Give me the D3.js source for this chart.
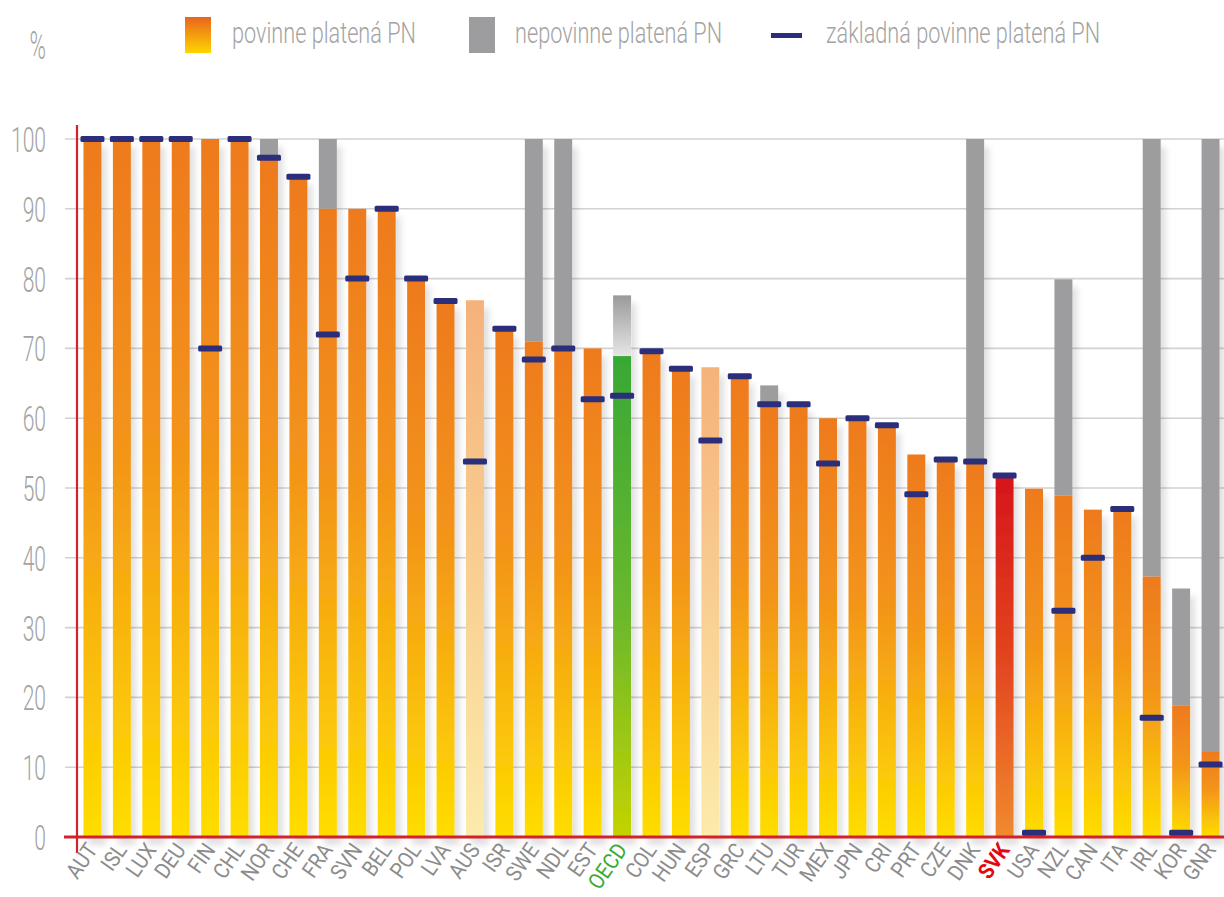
<!DOCTYPE html>
<html>
<head>
<meta charset="utf-8">
<script src="https://cdn.jsdelivr.net/npm/d3@7"></script>
<style>
  html, body { margin: 0; padding: 0; background: #ffffff; }
  svg { display: block; }
</style>
</head>
<body>
<svg id="chart" width="1224" height="897"></svg>
<script>
// Countries, ordered as drawn
const countries = ["AUT","ISL","LUX","DEU","FIN","CHL","NOR","CHE","FRA","SVN","BEL","POL","LVA","AUS","ISR","SWE","NDL","EST","OECD","COL","HUN","ESP","GRC","LTU","TUR","MEX","JPN","CRI","PRT","CZE","DNK","SVK","USA","NZL","CAN","ITA","IRL","KOR","GNR"];
// Mandatory paid leave (%)
const mandatoryPaid = [100,100,100,100,100,100,97.3,94.6,90,90,90,80,76.8,76.9,72.8,71,70,70,68.9,69.6,67.1,67.3,66,62,62,60,60,59,54.8,54,53.8,51.8,49.9,48.9,46.9,47,37.3,18.8,12.3];
// Optional paid leave stacked above the mandatory part (%)
const optionalPaid = [0,0,0,0,0,0,2.7,0,10,0,0,0,0,0,0,29,30,0,8.7,0,0,0,0,2.7,0,0,0,0,0,0,46.2,0,0,31,0,0,62.7,16.8,87.7];
// Basic mandatory paid leave (%)
const basicPaid = [100,100,100,100,70,100,97.3,94.6,72,80,90,80,76.8,53.8,72.8,68.4,70,62.7,63.2,69.6,67.1,56.8,66,62,62,53.5,60,59,49.1,54.1,53.8,51.8,0.6,32.4,40,47,17.1,0.6,10.4];
// Countries drawn in a lighter tone
const paleCountries = ["AUS","ESP"];
const yTicks = [0,10,20,30,40,50,60,70,80,90,100];
const legendLabels = ["povinne platená PN","nepovinne platená PN","základná povinne platená PN"];

const FONT = "Roboto,'Liberation Sans','DejaVu Sans',sans-serif";
const TEXT_GREY = "#a3a3a3";
const AXIS_RED = "#d3222a";
const NAVY = "#2b2e7a";
const OPT_GREY = "#9d9c9e";

const svg = d3.select("#chart");
const defs = svg.append("defs");

function vGrad(id, stops) {
  const g = defs.append("linearGradient").attr("id", id)
    .attr("x1", 0).attr("y1", 0).attr("x2", 0).attr("y2", 1);
  stops.forEach(([o, c]) => g.append("stop").attr("offset", o).attr("stop-color", c));
}
vGrad("gOrange", [[0, "#ee7a1f"], [0.45, "#f39519"], [1, "#ffdd00"]]);
vGrad("gPale", [[0, "#f5b27a"], [1, "#fcebab"]]);
vGrad("gGreen", [[0, "#38a836"], [0.55, "#6cb92c"], [1, "#c4d300"]]);
vGrad("gRed", [[0, "#d6151c"], [0.5, "#e2441f"], [1, "#f08a2e"]]);
vGrad("gOecdGrey", [[0, "#9a9a9a"], [1, "#e6e6e6"]]);
vGrad("gLegend", [[0, "#e9641c"], [1, "#ffd500"]]);

const shadow = defs.append("filter").attr("id", "soft")
  .attr("x", "-30%").attr("y", "-10%").attr("width", "180%").attr("height", "130%");
shadow.append("feDropShadow").attr("dx", 5).attr("dy", 8)
  .attr("stdDeviation", 3).attr("flood-color", "#000").attr("flood-opacity", 0.12);

const x = d3.scaleBand().domain(countries).range([72, 1231]).padding(0.39);
const y = d3.scaleLinear().domain([0, 100]).range([837, 139]);

// horizontal squeeze that makes `sample` (at `size`) span `width` px
function squeeze(sample, size, width, weight) {
  const t = svg.append("text").attr("font-family", FONT).attr("font-size", size)
    .attr("font-weight", weight || 300).text(sample);
  const w = t.node().getComputedTextLength();
  t.remove();
  return width / w;
}
const kTick = squeeze("100", 36, 35);
const kLegend = squeeze(legendLabels[0], 29, 184);
const kCat = squeeze("AUT", 22, 37, 400);

// condensed text helper
function ctext(sel, txt, px, py, size, sx, anchor, fill, weight) {
  return sel.append("text")
    .attr("transform", `translate(${px},${py}) scale(${sx},1)`)
    .attr("text-anchor", anchor || "start")
    .attr("font-family", FONT)
    .attr("font-size", size)
    .attr("font-weight", weight || 300)
    .attr("fill", fill || TEXT_GREY)
    .text(txt);
}

// horizontal grid
svg.append("g").selectAll("line").data(yTicks.filter(t => t > 0)).join("line")
  .attr("x1", 65).attr("x2", 1224)
  .attr("y1", d => y(d)).attr("y2", d => y(d))
  .attr("stroke", "#d2d2d2").attr("stroke-width", 1.6);

// y tick labels
const yLab = svg.append("g");
yTicks.forEach(t => ctext(yLab, String(t), 46, y(t) + 13, 36, kTick, "end"));
ctext(svg, "%", 46, 59, 38, kTick, "end");

const rows = countries.map((c, i) => ({
  c, paid: mandatoryPaid[i], opt: optionalPaid[i], basic: basicPaid[i]
}));

function fillFor(c) {
  if (c === "OECD") return "url(#gGreen)";
  if (c === "SVK") return "url(#gRed)";
  if (paleCountries.includes(c)) return "url(#gPale)";
  return "url(#gOrange)";
}

const bars = svg.append("g").attr("filter", "url(#soft)");
// optional (grey) segments
bars.selectAll("rect.opt").data(rows.filter(d => d.opt > 0)).join("rect")
  .attr("class", "opt")
  .attr("x", d => x(d.c)).attr("width", x.bandwidth())
  .attr("y", d => y(d.paid + d.opt))
  .attr("height", d => y(d.paid) - y(d.paid + d.opt))
  .attr("fill", d => d.c === "OECD" ? "url(#gOecdGrey)" : OPT_GREY);
// mandatory paid segments
bars.selectAll("rect.paid").data(rows).join("rect")
  .attr("class", "paid")
  .attr("x", d => x(d.c)).attr("width", x.bandwidth())
  .attr("y", d => y(d.paid))
  .attr("height", d => y(0) - y(d.paid))
  .attr("fill", d => fillFor(d.c));

// axes lines
svg.append("line").attr("x1", 64).attr("x2", 1224).attr("y1", y(0)).attr("y2", y(0))
  .attr("stroke", AXIS_RED).attr("stroke-width", 3);
svg.append("line").attr("x1", 77).attr("x2", 77).attr("y1", 125).attr("y2", 853)
  .attr("stroke", AXIS_RED).attr("stroke-width", 2.2);

// basic paid markers
svg.append("g").selectAll("rect").data(rows).join("rect")
  .attr("x", d => x(d.c) + x.bandwidth() / 2 - 12)
  .attr("width", 24)
  .attr("y", d => y(d.basic) - 3)
  .attr("height", 6)
  .attr("rx", 1.5)
  .attr("fill", NAVY);

// category labels
const xLab = svg.append("g");
rows.forEach(d => {
  const cx = x(d.c) + x.bandwidth() / 2 + 6;
  const col = d.c === "OECD" ? "#3aa935" : d.c === "SVK" ? "#e30613" : "#8c8c8c";
  xLab.append("text")
    .attr("transform", `translate(${cx},850) rotate(-55) scale(${kCat},1)`)
    .attr("text-anchor", "end")
    .attr("font-family", FONT)
    .attr("font-size", 22)
    .attr("font-weight", d.c === "SVK" ? 700 : 400)
    .attr("fill", col)
    .text(d.c);
});

// legend
const lg = svg.append("g");
lg.append("rect").attr("x", 185).attr("y", 17).attr("width", 26).attr("height", 36).attr("fill", "url(#gLegend)");
ctext(lg, legendLabels[0], 232, 43, 29, kLegend, "start");
lg.append("rect").attr("x", 469).attr("y", 17).attr("width", 26).attr("height", 36).attr("fill", OPT_GREY);
ctext(lg, legendLabels[1], 515, 43, 29, kLegend, "start");
lg.append("rect").attr("x", 771).attr("y", 33).attr("width", 31).attr("height", 5).attr("fill", NAVY);
ctext(lg, legendLabels[2], 826, 43, 29, kLegend, "start");
</script>
</body>
</html>
